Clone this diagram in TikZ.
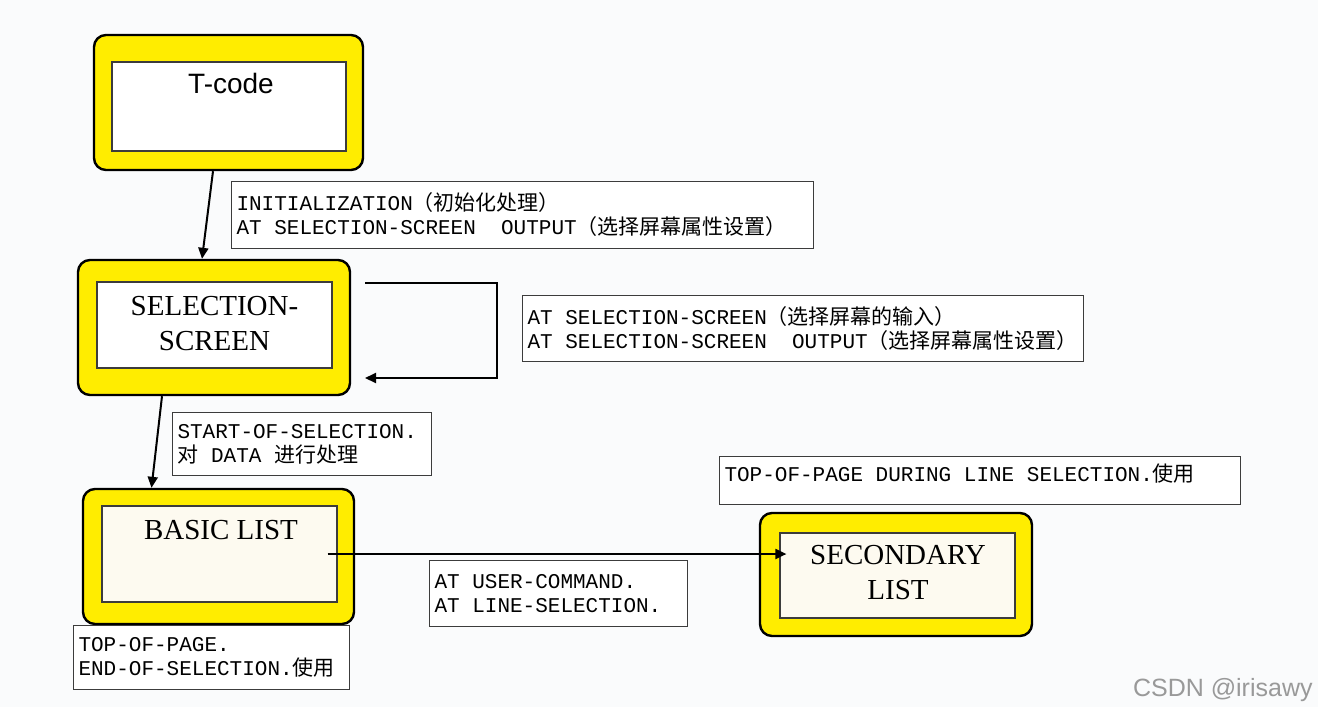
\documentclass[tikz,border=0pt]{standalone}
\usepackage{fontspec}
\setmainfont{Liberation Serif}
\newfontfamily\cjkf{Noto Sans CJK SC}
\newfontfamily\monof{Liberation Mono}
\newfontfamily\sansf{Liberation Sans}
\usetikzlibrary{arrows.meta,fit,calc}
\definecolor{bgc}{RGB}{250,251,252}
\definecolor{ylw}{RGB}{255,237,0}
\definecolor{cream}{RGB}{253,250,240}
\definecolor{edgec}{RGB}{60,60,60}
\newcommand{\zh}[1]{{\cjkf #1}}
\newcommand{\ms}{\hspace*{0.6em}}
\tikzset{
  outerbox/.style={draw=black, line width=1.2pt, fill=ylw, rounded corners=6pt, inner sep=0pt},
  innerbox/.style={draw=edgec, line width=0.6pt, fill=white, inner sep=0pt},
  titletxt/.style={font=\fontsize{14.5}{17.5}\selectfont, align=center, inner sep=0pt},
  lbl/.style={draw=edgec, line width=0.5pt, fill=white, font=\monof\fontsize{10.5}{12}\selectfont,
    align=left, inner xsep=2.5pt, inner ysep=0pt, anchor=north west},
  arr/.style={line width=1pt, -{Triangle[length=5.5pt,width=5pt]}},
}
\begin{document}
\begin{tikzpicture}[x=0.5pt,y=-0.5pt]
\fill[bgc] (0,0) rectangle (1318,707);
\useasboundingbox (0,0) rectangle (1318,707);

% T-code
\node[outerbox, fit={(94,35) (363,170)}] (tco) {};
\node[innerbox, fit={(112,62) (346,151)}] (tci) {};
\node[font=\sansf\fontsize{14}{17}\selectfont, inner sep=0pt, anchor=base] (ttc) at (231,93) {T-code};

% SELECTION-SCREEN
\node[outerbox, fit={(78,260) (350,395)}] (selo) {};
\node[innerbox, fit={(97,282) (332,368)}] (seli) {};
\node[titletxt] (tsel) at (214.5,323.5) {SELECTION-\\SCREEN};

% BASIC LIST
\node[outerbox, fit={(83,489) (354,624)}] (baso) {};
\node[innerbox, fill=cream, fit={(102,506) (337,602)}] (basi) {};
\node[titletxt, anchor=base] (tbas) at (221,539) {BASIC LIST};

% SECONDARY LIST
\node[outerbox, fit={(760,513) (1032,636)}] (seco) {};
\node[innerbox, fill=cream, fit={(780,533) (1015,618)}] (seci) {};
\node[titletxt] (tsec) at (898,572.5) {SECONDARY\\LIST};

% labels
\node[lbl, text width=286pt, minimum height=33.5pt] (l1) at (231,181)
  {INITIALIZATION\zh{（初始化处理）}\\AT\ms SELECTION-SCREEN\ms\ms OUTPUT\zh{（选择屏幕属性设置）}};
\node[lbl, text width=275.5pt, minimum height=33pt] (l2) at (522,295)
  {AT\ms SELECTION-SCREEN\zh{（选择屏幕的输入）}\\AT\ms SELECTION-SCREEN\ms\ms OUTPUT\zh{（选择屏幕属性设置）}};
\node[lbl, text width=124.5pt, minimum height=31.5pt] (l3) at (172,412)
  {START-OF-SELECTION.\\\zh{对}\ms DATA\ms\zh{进行处理}};
\node[lbl, text width=124pt, minimum height=33pt] (l4) at (429,560)
  {AT\ms USER-COMMAND.\\AT\ms LINE-SELECTION.};
\node[lbl, text width=255.5pt, minimum height=24pt, text depth=8pt] (l5) at (719,456)
  {TOP-OF-PAGE\ms DURING\ms LINE\ms SELECTION.\zh{使用}};
\node[lbl, text width=133pt, minimum height=32pt] (l6) at (73,625)
  {TOP-OF-PAGE.\\END-OF-SELECTION.\zh{使用}};

% connectors
\draw[arr] ([xshift=-7.75pt]tco.south) -- ([xshift=-6pt]selo.north);
\coordinate (lpA) at (365,283);
\coordinate (lpX) at (497,283);
\coordinate (lpB) at (365,378);
\draw[arr] (lpA) -- (lpX) |- (lpB);
\draw[arr] ([xshift=-26pt]selo.south) -- ([xshift=-33.5pt]baso.north);
\coordinate (a3s) at ([xshift=-5pt]basi.east);
\draw[arr] (a3s) -- ($(a3s -| seci.west)+(7,0)$);

% watermark
\node[font=\sansf\fontsize{12.5}{14}\selectfont, text=black!40, inner sep=0pt, anchor=base east] (wm) at (1313,696) {CSDN @irisawy};
\end{tikzpicture}
\end{document}
